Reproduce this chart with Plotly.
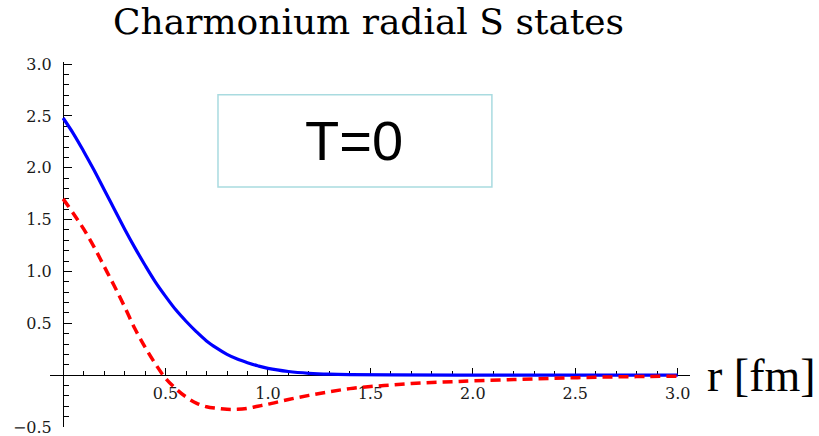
import plotly.graph_objects as go

# Radial wavefunctions of the charmonium S states (T = 0)
r_1s = [0.0, 0.05, 0.1, 0.15, 0.2, 0.25, 0.3, 0.35, 0.4, 0.45, 0.5, 0.55, 0.6,
        0.65, 0.7, 0.75, 0.8, 0.85, 0.9, 0.95, 1.0, 1.1, 1.2, 1.3, 1.4, 1.6,
        2.0, 2.5, 3.0]
psi_1s = [2.48, 2.33, 2.16, 1.98, 1.79, 1.60, 1.41, 1.23, 1.06, 0.90, 0.76,
          0.63, 0.52, 0.42, 0.33, 0.26, 0.20, 0.155, 0.12, 0.09, 0.065, 0.035,
          0.018, 0.009, 0.005, 0.002, 0.0005, 0.0, 0.0]

r_2s = [0.0, 0.05, 0.1, 0.15, 0.2, 0.25, 0.3, 0.35, 0.4, 0.45, 0.5, 0.55, 0.6,
        0.65, 0.7, 0.75, 0.8, 0.85, 0.9, 0.95, 1.0, 1.1, 1.2, 1.3, 1.4, 1.5,
        1.6, 1.7, 1.8, 1.9, 2.0, 2.2, 2.4, 2.6, 2.8, 3.0]
psi_2s = [1.70, 1.56, 1.41, 1.24, 1.05, 0.86, 0.66, 0.45, 0.27, 0.11, -0.03,
          -0.13, -0.21, -0.27, -0.305, -0.32, -0.33, -0.33, -0.32, -0.30, -0.28,
          -0.235, -0.195, -0.16, -0.13, -0.11, -0.095, -0.08, -0.07, -0.063,
          -0.055, -0.042, -0.03, -0.02, -0.014, -0.01]

x_ticks = [0.5, 1.0, 1.5, 2.0, 2.5, 3.0]
x_labels = ["0.5", "1.0", "1.5", "2.0", "2.5", "3.0"]
y_ticks = [-0.5, 0.5, 1.0, 1.5, 2.0, 2.5, 3.0]
y_labels = ["\u22120.5", "0.5", "1.0", "1.5", "2.0", "2.5", "3.0"]

x_range = [-0.064, 3.06]
y_range = [-0.5, 3.02]

# axes cross at the origin
y_axis_pos = (0 - x_range[0]) / (x_range[1] - x_range[0])
x_axis_pos = (0 - y_range[0]) / (y_range[1] - y_range[0])

serif = "Liberation Serif"
tick_font = dict(family="DejaVu Serif", size=16, color="#1a1a1a")

W, H = 819, 436
M = dict(l=50, r=129, t=62, b=9)
plot_w = W - M["l"] - M["r"]
plot_h = H - M["t"] - M["b"]

fig = go.Figure()
fig.add_trace(go.Scatter(x=r_1s, y=psi_1s, mode="lines", line_shape="spline",
                         line=dict(color="#0000ff", width=3.2), name="1S"))
fig.add_trace(go.Scatter(x=r_2s, y=psi_2s, mode="lines", line_shape="spline",
                         line=dict(color="#ff0000", width=3.5, dash="10px,6px"),
                         name="2S"))

fig.update_layout(
    width=W, height=H,
    margin=dict(**M, autoexpand=False),
    paper_bgcolor="white", plot_bgcolor="white",
    showlegend=False,
    xaxis=dict(range=x_range, showgrid=False, zeroline=False,
               showline=True, linecolor="black", linewidth=1.3,
               anchor="free", position=x_axis_pos, automargin=False,
               tickmode="array", tickvals=x_ticks, ticktext=x_labels,
               ticks="inside", ticklen=7, tickwidth=1.3, tickcolor="black",
               ticklabelstandoff=3, tickfont=tick_font,
               ticklabeloverflow="allow",
               minor=dict(ticks="inside", ticklen=4, tickwidth=1.2,
                          tickcolor="black", tickmode="linear", tick0=0,
                          dtick=0.1, showgrid=False),
               layer="below traces"),
    yaxis=dict(range=y_range, showgrid=False, zeroline=False,
               showline=True, linecolor="black", linewidth=1.3,
               anchor="free", position=y_axis_pos, automargin=False,
               tickmode="array", tickvals=y_ticks, ticktext=y_labels,
               ticks="inside", ticklen=8, tickwidth=1.3, tickcolor="black",
               ticklabelstandoff=8, tickfont=tick_font,
               ticklabeloverflow="allow",
               minor=dict(ticks="inside", ticklen=5, tickwidth=1.2,
                          tickcolor="black", tickmode="linear", tick0=0,
                          dtick=0.1, showgrid=False),
               layer="below traces"),
)

# chart title, pinned to the top edge of the page
fig.add_annotation(x=(368 - M["l"]) / plot_w, y=1 + M["t"] / plot_h,
                   xref="paper", yref="paper", text="Charmonium radial S states",
                   showarrow=False, xanchor="center", yanchor="top",
                   borderpad=0,
                   font=dict(family="DejaVu Serif", size=36, color="black"))

# temperature label box
fig.add_shape(type="rect", xref="x", yref="y", x0=0.756, x1=2.093,
              y0=1.815, y1=2.703, line=dict(color="#a9dbe0", width=1.5),
              fillcolor="rgba(0,0,0,0)")
fig.add_annotation(x=1.42, y=2.26, xref="x", yref="y", text="T=0",
                   showarrow=False, xanchor="center", yanchor="middle",
                   font=dict(family="Liberation Sans, Arial, sans-serif",
                             size=56, color="black"))

# axis label at the end of the r axis
fig.add_annotation(x=1.111, y=0, xref="paper", yref="y", text="r [fm]",
                   showarrow=False, xanchor="center", yanchor="middle",
                   font=dict(family=serif, size=46, color="black"))

fig.write_html("out.html")
